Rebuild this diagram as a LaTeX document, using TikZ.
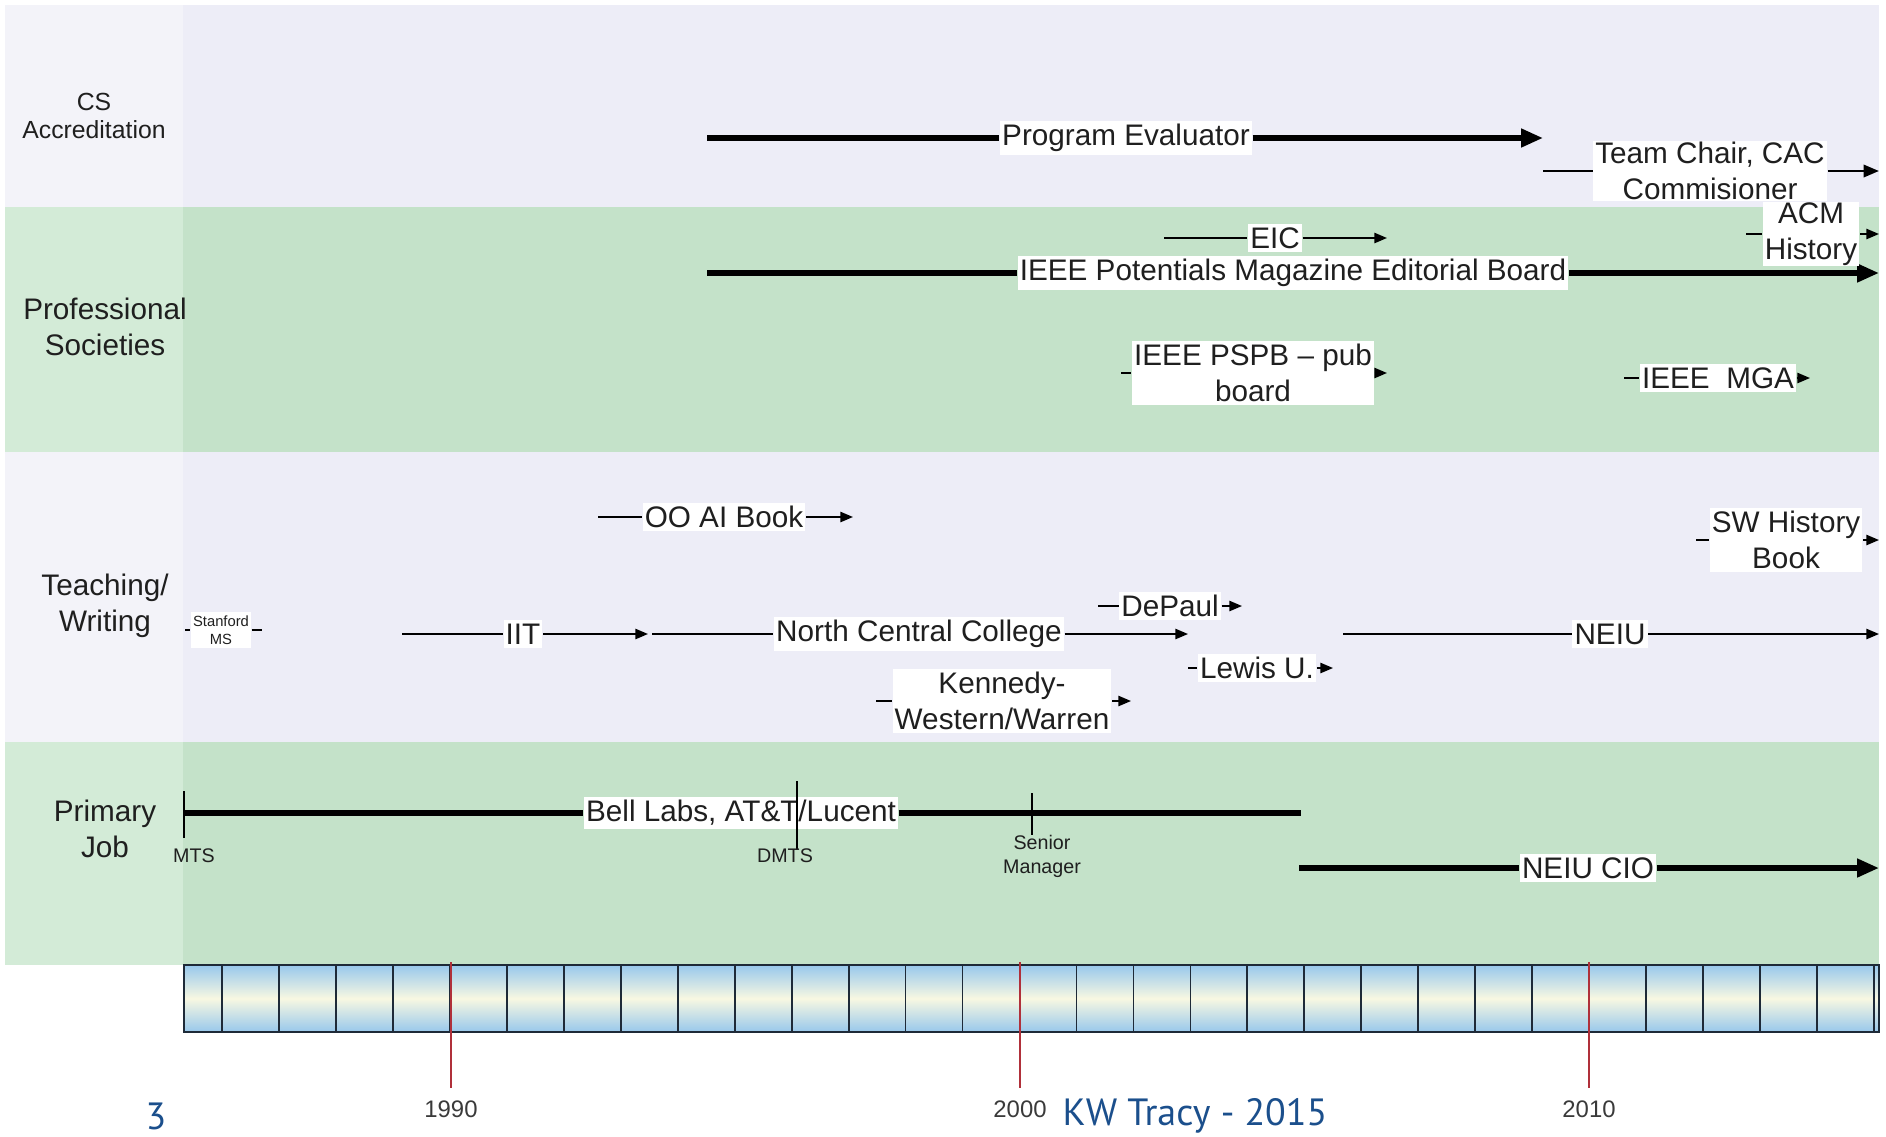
\documentclass[tikz,border=0pt]{standalone}
\usepackage{fontspec}
\setmainfont{Liberation Sans}
\newfontfamily\footfont{PT Sans}
\usepackage{tikz}
\usetikzlibrary{positioning, arrows.meta}
\usepackage{xcolor}
\definecolor{laneLav}{HTML}{EDEDF7}
\definecolor{laneLavL}{HTML}{F3F3F9}
\definecolor{laneGreen}{HTML}{C4E2C9}
\definecolor{laneGreenL}{HTML}{D3EBD7}
\definecolor{tlBlue}{HTML}{98C8EC}
\definecolor{tlCream}{HTML}{F8F8E2}
\definecolor{tlLine}{HTML}{1E2A38}
\definecolor{redLine}{HTML}{B0303A}
\definecolor{txtDark}{HTML}{1F1F1F}
\definecolor{yearGray}{HTML}{3A3A3A}
\definecolor{footBlue}{HTML}{1B4F8C}

\begin{document}
\begin{tikzpicture}[font=\fontsize{8.45}{10.2}\selectfont, text=txtDark,
    lbl/.style={fill=white, inner xsep=0.6pt, inner ysep=1pt, align=center},
    bar/.style={line width=1.5pt, -{Triangle[length=6.2pt,width=5pt]}},
    midbar/.style={line width=0.75pt, -{Triangle[length=4.4pt,width=3.5pt]}},
    thinbar/.style={line width=0.55pt, -{Triangle[length=3.6pt,width=2.9pt]}},
    tick/.style={line width=0.5pt},
    small/.style={font=\fontsize{5.6}{6.8}\selectfont, inner sep=0pt, align=center},
    yearlbl/.style={font=\fontsize{6.8}{8}\selectfont, text=yearGray},
    footer/.style={font=\footfont\fontsize{10.8}{12}\selectfont, text=footBlue}]
  \useasboundingbox (0,0) rectangle (18.86,11.36);
  % Bandas
  \fill[laneLav] (1.83,9.29) rectangle (18.79,11.31);
  \fill[laneLavL] (0.05,9.29) rectangle (1.83,11.31);
  \fill[laneGreen] (1.83,6.84) rectangle (18.79,9.29);
  \fill[laneGreenL] (0.05,6.84) rectangle (1.83,9.29);
  \fill[laneLav] (1.83,3.94) rectangle (18.79,6.84);
  \fill[laneLavL] (0.05,3.94) rectangle (1.83,6.84);
  \fill[laneGreen] (1.83,1.71) rectangle (18.79,3.94);
  \fill[laneGreenL] (0.05,1.71) rectangle (1.83,3.94);
  % Nombres de las bandas
  \node[font=\fontsize{7.05}{8.2}\selectfont, align=center] (csacc) at (0.94,10.20) {CS\\Accreditation};
  \node[align=center] (profsoc) at (1.05,8.09) {Professional\\Societies};
  \node[align=center] (teach) at (1.05,5.30) {Teaching/\\Writing};
  \node[align=center] (primary) at (1.05,3.07) {Primary\\Job};
  % Eje de tiempo
  \shade[top color=tlBlue, bottom color=tlBlue, middle color=tlCream] (1.84,1.04) rectangle (18.79,1.71);
  \draw[tlLine, line width=0.6pt] (1.84,1.04) rectangle (18.79,1.71);
  \foreach \yr in {1986,...,2015}{
    \pgfmathsetmacro\xx{4.50+(\yr-1990)*0.5695}
    \draw[tlLine, line width=0.5pt] (\xx,1.04) -- (\xx,1.71);
  }
  \foreach \yr/\xx in {1990/4.51, 2000/10.20, 2010/15.89}{
    \draw[redLine, line width=0.5pt] (\xx,1.74) -- (\xx,0.48);
    \node[yearlbl] (y\yr) at (\xx,0.27) {\yr};
  }
  \node[footer] (pagenum) at (1.56,0.20) {3};
  \node[footer] (author) at (11.95,0.20) {KW Tracy - 2015};
  % Professional Societies
  \node[lbl] (eic) at (12.75,8.98) {EIC};
  \coordinate (eic-s) at (11.64,8.98);
  \coordinate (eic-e) at (13.87,8.98);
  \draw[thinbar] (eic-s) -- (eic) -- (eic-e);
  \node[lbl] (pot) at (12.93,8.63) {IEEE Potentials Magazine Editorial Board};
  \coordinate (pot-s) at (7.07,8.63);
  \coordinate (pot-e) at (18.79,8.63);
  \draw[bar] (pot-s) -- (pot) -- (pot-e);
  \node[lbl, inner ysep=0.2pt] (acm) at (18.11,9.02) {ACM\\History};
  \coordinate (acm-s) at (17.46,9.02);
  \coordinate (acm-e) at (18.79,9.02);
  \draw[thinbar] (acm-s) -- (acm) -- (acm-e);
  \node[lbl] (pspb) at (12.53,7.63) {IEEE PSPB \textendash{} pub\\board};
  \coordinate (pspb-s) at (11.21,7.63);
  \coordinate (pspb-e) at (13.87,7.63);
  \draw[thinbar] (pspb-s) -- (pspb) -- (pspb-e);
  \node[lbl] (mga) at (17.18,7.58) {IEEE~~MGA};
  \coordinate (mga-s) at (16.24,7.58);
  \coordinate (mga-e) at (18.10,7.58);
  \draw[thinbar] (mga-s) -- (mga) -- (mga-e);
  % CS Accreditation
  \node[lbl] (pe) at (11.26,9.98) {Program Evaluator};
  \coordinate (pe-s) at (7.07,9.98);
  \coordinate (pe-e) at (15.43,9.98);
  \draw[bar] (pe-s) -- (pe) -- (pe-e);
  \node[lbl, inner ysep=0.2pt] (tcc) at (17.10,9.65) {Team Chair, CAC\\Commisioner};
  \coordinate (tcc-s) at (15.43,9.65);
  \coordinate (tcc-e) at (18.79,9.65);
  \draw[midbar] (tcc-s) -- (tcc) -- (tcc-e);
  % Teaching / Writing
  \node[lbl] (ooai) at (7.24,6.19) {OO AI Book};
  \coordinate (ooai-s) at (5.98,6.19);
  \coordinate (ooai-e) at (8.53,6.19);
  \draw[thinbar] (ooai-s) -- (ooai) -- (ooai-e);
  \node[lbl, font=\fontsize{4.2}{5.2}\selectfont] (stan) at (2.21,5.06) {Stanford\\MS};
  \coordinate (stan-s) at (1.85,5.06);
  \coordinate (stan-e) at (2.62,5.06);
  \draw[tick] (stan-s) -- (stan) -- (stan-e);
  \node[lbl] (iit) at (5.23,5.02) {IIT};
  \coordinate (iit-s) at (4.02,5.02);
  \coordinate (iit-e) at (6.48,5.02);
  \draw[thinbar] (iit-s) -- (iit) -- (iit-e);
  \node[lbl] (ncc) at (9.19,5.02) {North Central College};
  \coordinate (ncc-s) at (6.52,5.02);
  \coordinate (ncc-e) at (11.88,5.02);
  \draw[thinbar] (ncc-s) -- (ncc) -- (ncc-e);
  \node[lbl] (dep) at (11.70,5.30) {DePaul};
  \coordinate (dep-s) at (10.98,5.30);
  \coordinate (dep-e) at (12.42,5.30);
  \draw[thinbar] (dep-s) -- (dep) -- (dep-e);
  \node[lbl] (lew) at (12.57,4.68) {Lewis U.};
  \coordinate (lew-s) at (11.88,4.68);
  \coordinate (lew-e) at (13.33,4.68);
  \draw[thinbar] (lew-s) -- (lew) -- (lew-e);
  \node[lbl] (neiu) at (16.10,5.02) {NEIU};
  \coordinate (neiu-s) at (13.43,5.02);
  \coordinate (neiu-e) at (18.79,5.02);
  \draw[thinbar] (neiu-s) -- (neiu) -- (neiu-e);
  \node[lbl] (kww) at (10.02,4.35) {Kennedy-\\Western/Warren};
  \coordinate (kww-s) at (8.76,4.35);
  \coordinate (kww-e) at (11.31,4.35);
  \draw[thinbar] (kww-s) -- (kww) -- (kww-e);
  \node[lbl] (swh) at (17.86,5.96) {SW History\\Book};
  \coordinate (swh-s) at (16.96,5.96);
  \coordinate (swh-e) at (18.79,5.96);
  \draw[thinbar] (swh-s) -- (swh) -- (swh-e);
  % Primary Job
  \node[lbl] (bell) at (7.41,3.23) {Bell Labs, AT\&T/Lucent};
  \coordinate (bell-s) at (1.84,3.23);
  \coordinate (bell-e) at (13.01,3.23);
  \draw[line width=1.5pt] (bell-s) -- (bell) -- (bell-e);
  \draw[tick] (1.84,3.45) -- (1.84,2.98);
  \draw[tick] (7.97,3.55) -- (7.97,2.86);
  \draw[tick] (10.32,3.43) -- (10.32,3.01);
  \node[small] (mts) at (1.94,2.80) {MTS};
  \node[small] (dmts) at (7.85,2.80) {DMTS};
  \node[small] (senior) at (10.42,2.80) {Senior\\Manager};
  \node[lbl] (cio) at (15.88,2.68) {NEIU CIO};
  \coordinate (cio-s) at (12.99,2.68);
  \coordinate (cio-e) at (18.79,2.68);
  \draw[bar] (cio-s) -- (cio) -- (cio-e);
\end{tikzpicture}
\end{document}
